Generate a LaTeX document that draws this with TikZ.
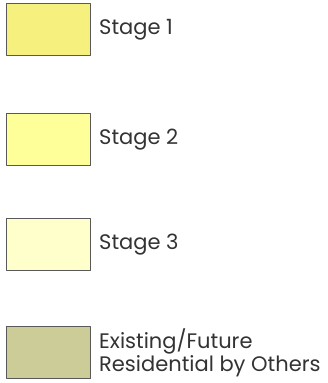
\documentclass[tikz,border=0pt]{standalone}
\usepackage{fontspec}
\setmainfont{Poppins}
\definecolor{stageone}{HTML}{F6F07F}
\definecolor{stagetwo}{HTML}{FFFF99}
\definecolor{stagethree}{HTML}{FFFFCC}
\definecolor{others}{HTML}{CCCC99}
\begin{document}
\begin{tikzpicture}[x=1pt,y=-1pt,line join=round,font=\fontsize{21}{21.5}\selectfont,
    swatch/.style={draw=black!65,line width=1pt,minimum width=84pt,minimum height=52pt,inner sep=0pt,anchor=north west},
    legendtext/.style={anchor=west,inner sep=0pt,align=left,text=black!80,xshift=8pt}]
	\useasboundingbox (0,0) rectangle (328,383);
	% swatches
	\node[swatch,fill=stageone] (s1) at (6,3) {};
	\node[swatch,fill=stagetwo] (s2) at (6,113) {};
	\node[swatch,fill=stagethree] (s3) at (6,218) {};
	\node[swatch,fill=others] (s4) at (6,326) {};
	% texts
	\node[legendtext] (t1) at (s1.east) {Stage 1};
	\node[legendtext] (t2) at (s2.east) {Stage 2};
	\node[legendtext] (t3) at (s3.east) {Stage 3};
	\node[legendtext] (t4) at (s4.east) {Existing/Future\\Residential by Others};
\end{tikzpicture}
\end{document}
